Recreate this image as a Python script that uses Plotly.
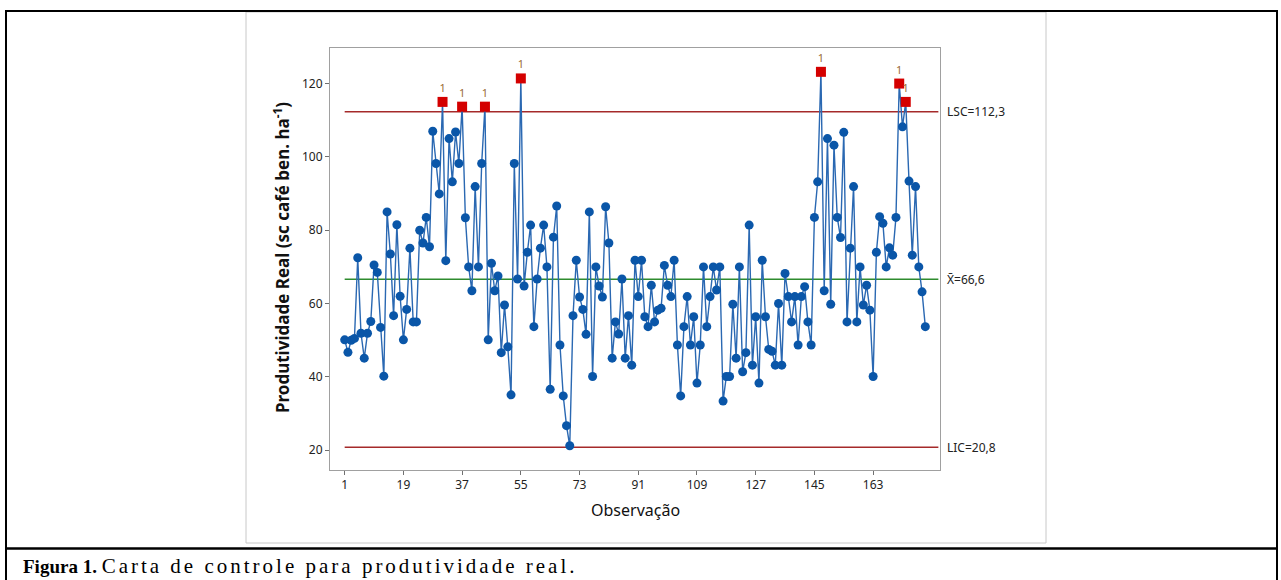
import plotly.graph_objects as go

# ---- data ----
observacao = list(range(1, 180))
produtividade = [
    50.1, 46.7, 50.0, 50.5, 72.5, 51.9, 45.1, 51.9, 55.1, 70.5,
    68.5, 53.5, 40.2, 85.0, 73.5, 56.7, 81.5, 62.0, 50.1, 58.4,
    75.1, 55.0, 55.0, 80.0, 76.5, 83.5, 75.5, 107.0, 98.2, 89.9,
    115.0, 71.7, 105.0, 93.2, 106.8, 98.2, 113.7, 83.4, 70.0, 63.5,
    91.9, 70.0, 98.2, 113.7, 50.1, 71.0, 63.5, 67.5, 46.6, 59.6,
    48.2, 35.1, 98.2, 66.7, 121.4, 64.8, 74.0, 81.4, 53.7, 66.7,
    75.1, 81.4, 70.0, 36.6, 78.1, 86.6, 48.7, 34.8, 26.7, 21.2,
    56.7, 71.8, 61.8, 58.4, 51.6, 85.0, 40.1, 70.0, 64.8, 61.8,
    86.4, 76.5, 45.1, 55.0, 51.7, 66.7, 45.1, 56.7, 43.2, 71.8,
    61.9, 71.8, 56.4, 53.7, 65.0, 55.0, 58.2, 58.7, 70.4, 65.0,
    61.9, 71.8, 48.7, 34.8, 53.7, 61.9, 48.7, 56.4, 38.3, 48.7,
    70.0, 53.7, 61.9, 70.0, 63.7, 70.0, 33.4, 40.1, 40.1, 59.8,
    45.1, 70.0, 41.4, 46.6, 81.4, 43.2, 56.4, 38.3, 71.8, 56.4,
    47.5, 47.0, 43.2, 60.0, 43.2, 68.2, 61.9, 55.0, 61.9, 48.7,
    61.9, 64.6, 55.0, 48.7, 83.5, 93.2, 123.2, 63.5, 105.0, 59.8,
    103.2, 83.5, 78.0, 106.7, 55.0, 75.1, 91.9, 55.0, 70.0, 59.6,
    65.0, 58.2, 40.1, 74.0, 83.7, 81.9, 70.0, 75.2, 73.2, 83.5,
    120.0, 108.2, 115.0, 93.4, 73.2, 91.9, 70.0, 63.2, 53.7,
]
LSC = 112.3
MEDIA = 66.6
LIC = 20.8
x_ticks = [1, 19, 37, 55, 73, 91, 109, 127, 145, 163]
y_ticks = [20, 40, 60, 80, 100, 120]

# ---- geometry helpers (pixel -> paper) ----
L, R, T, B = 330, 940, 48, 470
W, H = 1281, 580
def px(xp):
    return (xp - L) / (R - L)
def py(yp):
    return (B - yp) / (B - T)

ooc_x = [o for o, v in zip(observacao, produtividade) if v > LSC or v < LIC]
ooc_y = [v for v in produtividade if v > LSC or v < LIC]
in_x = [o for o, v in zip(observacao, produtividade) if LIC <= v <= LSC]
in_y = [v for v in produtividade if LIC <= v <= LSC]

fig = go.Figure()
xr = [-3.5, 183.5]
for val, col in [(LSC, "#A52A2A"), (LIC, "#A52A2A"), (MEDIA, "#2E8B2E")]:
    fig.add_trace(go.Scatter(x=[1, 183], y=[val, val], mode="lines",
                             line=dict(color=col, width=1.5), hoverinfo="skip",
                             showlegend=False))
fig.add_trace(go.Scatter(x=observacao, y=produtividade, mode="lines",
                         line=dict(color="#2A68B2", width=1.4), showlegend=False))
fig.add_trace(go.Scatter(x=in_x, y=in_y, mode="markers",
                         marker=dict(color="#0A56A8", size=9, symbol="circle"),
                         showlegend=False))
fig.add_trace(go.Scatter(x=ooc_x, y=ooc_y, mode="markers+text",
                         marker=dict(color="#D40000", size=10, symbol="square"),
                         text=["1"] * len(ooc_x), textposition="top center",
                         textfont=dict(family="Noto Sans", size=11, color="#9A6B35"),
                         showlegend=False))

axis_font = dict(family="Noto Sans", size=12, color="#222222")
fig.update_xaxes(range=xr, tickvals=x_ticks, ticktext=[str(t) for t in x_ticks],
                 showgrid=False, zeroline=False, showline=True, mirror=True,
                 linecolor="#A0A0A0", linewidth=1, ticks="outside", ticklen=4,
                 tickcolor="#707070", tickfont=axis_font)
fig.update_yaxes(range=[14.6, 129.7], tickvals=y_ticks,
                 showgrid=False, zeroline=False, showline=True, mirror=True,
                 linecolor="#A0A0A0", linewidth=1, ticks="outside", ticklen=4,
                 tickcolor="#707070", tickfont=axis_font)

shapes = [
    # chart image frame
    dict(type="rect", xref="paper", yref="paper", x0=px(246), x1=px(1046),
         y0=py(543), y1=py(12), line=dict(color="#C8C8C8", width=1)),
    # outer table borders
    dict(type="line", xref="paper", yref="paper", x0=px(5), x1=px(1278),
         y0=py(11), y1=py(11), line=dict(color="black", width=2)),
    dict(type="line", xref="paper", yref="paper", x0=px(6), x1=px(6),
         y0=py(10), y1=py(580), line=dict(color="black", width=2)),
    dict(type="line", xref="paper", yref="paper", x0=px(1277), x1=px(1277),
         y0=py(10), y1=py(580), line=dict(color="black", width=2)),
    dict(type="line", xref="paper", yref="paper", x0=px(5), x1=px(1278),
         y0=py(548.5), y1=py(548.5), line=dict(color="black", width=2.5)),
]

lab_font = dict(family="Noto Sans", size=12, color="#222222")
annotations = [
    dict(xref="paper", yref="y", x=px(945), y=LSC, text="LSC=112,3",
         showarrow=False, xanchor="left", yanchor="middle", font=lab_font),
    dict(xref="paper", yref="y", x=px(945), y=MEDIA, text="X̄=66,6",
         showarrow=False, xanchor="left", yanchor="middle", font=lab_font),
    dict(xref="paper", yref="y", x=px(945), y=LIC, text="LIC=20,8",
         showarrow=False, xanchor="left", yanchor="middle", font=lab_font),
    dict(xref="paper", yref="paper", x=px(281), y=py(258),
         text="<b>Produtividade Real (sc café ben. ha<sup>-1</sup>)</b>",
         textangle=-90, showarrow=False, xanchor="center", yanchor="middle",
         font=dict(family="Noto Sans", size=17, color="#111111")),
    dict(xref="paper", yref="paper", x=px(635), y=py(510), text="Observação",
         showarrow=False, xanchor="center", yanchor="middle",
         font=dict(family="Noto Sans", size=16, color="#111111")),
    dict(xref="paper", yref="paper", x=px(21), y=py(566),
         text="<b>Figura 1.</b> <span style=\"font-size:21px;letter-spacing:3px\">"
              "Carta de controle para produtividade real.</span>",
         showarrow=False, xanchor="left", yanchor="middle",
         font=dict(family="Liberation Serif", size=19, color="black")),
]

fig.update_layout(width=W, height=H, autosize=False,
                  margin=dict(l=L, r=W - R, t=T, b=H - B),
                  paper_bgcolor="white", plot_bgcolor="white",
                  shapes=shapes, annotations=annotations, showlegend=False)

fig.write_html("out.html", config={"displayModeBar": False},
               post_script="document.body.style.margin='0px';"
                           "document.body.style.overflow='hidden';")
